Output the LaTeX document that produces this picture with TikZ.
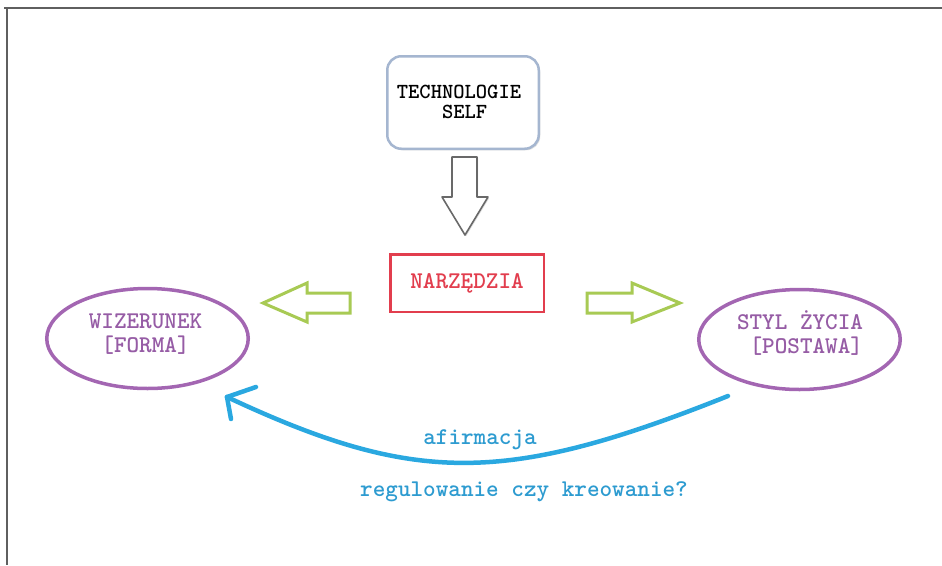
\documentclass[tikz,border=0pt]{standalone}
\usepackage{fontspec}
\usetikzlibrary{shapes.geometric,shadows}
\definecolor{frameg}{RGB}{95,95,95}
\definecolor{techbd}{RGB}{165,182,208}
\definecolor{redc}{RGB}{226,62,78}
\definecolor{greenc}{RGB}{168,202,84}
\definecolor{purp}{RGB}{163,102,178}
\definecolor{purpt}{RGB}{150,92,165}
\definecolor{bluec}{RGB}{42,168,224}
\definecolor{bluet}{RGB}{45,155,208}
\definecolor{arrg}{RGB}{105,105,105}
\newcommand\myfont[1]{\ttfamily\bfseries\fontsize{#1}{#1}\selectfont}
\tikzset{
  frameline/.style={draw=frameg, line width=1.5pt},
  techbox/.style={draw=techbd, line width=2.5pt, rounded corners=14pt, fill=white,
    minimum width=151.5pt, minimum height=92.5pt, inner sep=0pt,
    drop shadow={shadow xshift=1.5pt, shadow yshift=-1.5pt, opacity=0.25}},
  techtext/.style={font=\myfont{21.5}, align=left, inner sep=0pt},
  redbox/.style={draw=redc, line width=2.5pt, fill=white, minimum width=153.5pt, minimum height=57.5pt,
    text=redc, font=\myfont{24}},
  downarrow/.style={draw=arrg, line width=1.6pt, fill=white, line join=round,
    drop shadow={shadow xshift=1.2pt, shadow yshift=-1.2pt, opacity=0.25}},
  greenarrow/.style={draw=greenc, line width=3pt, fill=white},
  purpellipse/.style={ellipse, draw=purp, line width=3.5pt, minimum width=201.5pt, minimum height=100pt, inner sep=0pt},
  purptext/.style={text=purpt, font=\myfont{24}, inner sep=0pt},
  bluecurve/.style={draw=bluec, line width=4.5pt, line cap=round},
  bluetext/.style={text=bluet, font=\myfont{24}, inner sep=0pt}
}
\begin{document}
\begin{tikzpicture}[x=1pt,y=-1pt]
\useasboundingbox (0,0) rectangle (942,565);
% frame
\draw[frameline] (4,8) -- (942,8);
\draw[frameline] (7,8) -- (7,565);
% top box
\node[techbox] (tech) at (463,102.5) {};
\node[techtext] (techt) at (459,102) {TECHNOLOGIE\\[-1pt]\hspace*{4\fontcharwd\font`M}SELF};
% down block arrow
\draw[downarrow] (452,157) -- (477,157) -- (477,197) -- (488,197) -- (465,235) -- (442,197) -- (452,197) -- cycle;
% tools box
\node[redbox] (narz) at (467,283) {NARZĘDZIA};
% green block arrows
\draw[greenarrow] (263,303) -- (307,283) -- (307,293) -- (350,293) -- (350,313) -- (307,313) -- (307,322) -- cycle;
\draw[greenarrow] (680,303) -- (632,283) -- (632,293) -- (587,293) -- (587,313) -- (632,313) -- (632,322) -- cycle;
% ellipses
\node[purpellipse] (wiz) at (147.5,338.5) {};
\node[purptext, align=center] (wizt) at (145.5,334) {WIZERUNEK\\{[FORMA]}};
\node[purpellipse] (styl) at (799.5,339.5) {};
\node[purptext, align=left] (stylt) at (800,333) {STYL ŻYCIA\\\hspace*{\fontcharwd\font`M}{[POSTAWA]}};
% blue curved arrow
\coordinate (cs) at (728,396);
\coordinate (ce) at (227,397);
\draw[bluecurve] (cs) .. controls (505,485) and (415,485) .. (ce);
\draw[bluecurve] (ce) -- ++(29,-10);
\draw[bluecurve] (ce) -- ++(4,22);
% labels
\node[bluetext] (afi) at (480,440) {afirmacja};
\node[bluetext] (reg) at (524,492) {regulowanie czy kreowanie?};
\end{tikzpicture}
\end{document}
